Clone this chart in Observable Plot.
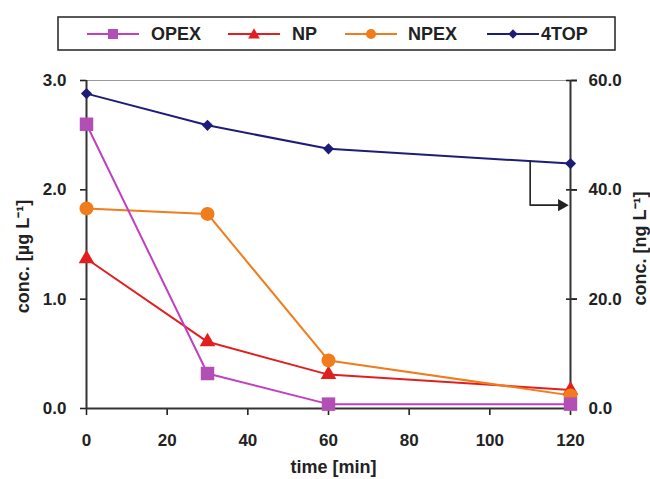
<!DOCTYPE html>
<html><head><meta charset="utf-8">
<script src="https://cdn.jsdelivr.net/npm/d3@7"></script>
<script src="https://cdn.jsdelivr.net/npm/@observablehq/plot@0.6"></script>
<style>
body{margin:0;background:#fff;font-family:"Liberation Sans",Arial,sans-serif;}
#wrap{position:relative;width:650px;height:479px;overflow:hidden;}
#legend{position:absolute;left:0;top:0;}
#chart{position:absolute;left:0;top:62px;}
</style></head><body>
<div id="wrap"><svg id="legend" width="650" height="62"></svg><div id="chart"></div></div>
<script>
// ---- data ----
const times = [0, 30, 60, 120];                 // time [min]
const opex  = [2.60, 0.32, 0.04, 0.04];         // µg/L (left axis)
const np    = [1.37, 0.61, 0.31, 0.17];         // µg/L
const npex  = [1.83, 1.78, 0.44, 0.12];         // µg/L
const top4  = [57.6, 51.8, 47.5, 44.8];         // ng/L (right axis)
const seriesNames = ["OPEX", "NP", "NPEX", "4TOP"];
const xTicks = [0, 20, 40, 60, 80, 100, 120];
const leftTicks = [0, 1, 2, 3];
const rightTicks = [0, 20, 40, 60];
const ratio = 20; // right axis (ng/L) = left axis units * 20
// annotation arrow (points to right axis)
const arrowX = 110, arrowYng = 37.2, arrowEndX = 117.8;

const colors = {OPEX: "#c040c0", NP: "#e21f1f", NPEX: "#f07c1c", "4TOP": "#1d1d78"};
const fills  = {OPEX: "#b24fb4", NP: "#e21f1f", NPEX: "#f07c1c", "4TOP": "#1d1d78"};
const symbols = {OPEX: "square", NP: "triangle", NPEX: "circle", "4TOP": "diamond2"};
const radii = {OPEX: 7.6, NP: 5.8, NPEX: 7, "4TOP": 5};

const valuesBy = {OPEX: opex, NP: np, NPEX: npex, "4TOP": top4.map(v => v / ratio)};
const rows = [];
for (const s of seriesNames) valuesBy[s].forEach((v, i) => rows.push({series: s, t: times[i], y: v}));

// arrow geometry: start on 4TOP line at arrowX
function interp(xs, ys, x) {
  for (let i = 0; i < xs.length - 1; i++) if (x >= xs[i] && x <= xs[i+1]) return ys[i] + (ys[i+1]-ys[i])*(x-xs[i])/(xs[i+1]-xs[i]);
  return ys[ys.length-1];
}
const yStart = interp(times, valuesBy["4TOP"], arrowX);
const arrowPath = [{x: arrowX, y: yStart}, {x: arrowX, y: arrowYng/ratio}, {x: arrowEndX, y: arrowYng/ratio}];

const drawOrder = ["4TOP", "NP", "NPEX", "OPEX"];
const dotOrder = ["NP", "NPEX", "OPEX", "4TOP"];

const plot = Plot.plot({
  width: 650, height: 417,
  marginLeft: 86, marginRight: 80, marginTop: 18, marginBottom: 71,
  style: {fontFamily: '"Liberation Sans", Arial, sans-serif', fontSize: "17px", fontWeight: "bold", color: "#222"},
  x: {domain: [0, 120], axis: null},
  y: {domain: [0, 3], axis: null},
  marks: [
    Plot.ruleY([3], {stroke: "#9a9a9a", strokeWidth: 1.2}),
    Plot.axisX({ticks: xTicks, tickSize: 7, tickPadding: 18, tickFormat: d => String(d), label: null, strokeWidth: 1.6}),
    Plot.axisY({anchor: "left", ticks: leftTicks, tickSize: 6, tickPadding: 14, tickFormat: d => d.toFixed(1), label: null, strokeWidth: 1.6}),
    Plot.axisY({anchor: "right", ticks: rightTicks.map(v => v/ratio), tickSize: 6, tickPadding: 12, tickFormat: d => (d*ratio).toFixed(1), label: null, strokeWidth: 1.6}),
    Plot.axisY({anchor: "right", ticks: rightTicks.map(v => v/ratio), tickSize: 11, dx: -5, tickPadding: 0, tickFormat: () => "", label: null, strokeWidth: 1.6}),
    Plot.ruleX([0], {stroke: "#333", strokeWidth: 2}),
    Plot.ruleX([120], {stroke: "#333", strokeWidth: 2}),
    Plot.ruleY([0], {stroke: "#333", strokeWidth: 2}),
    ...drawOrder.map(s => Plot.line(rows.filter(d => d.series === s), {x: "t", y: "y", stroke: colors[s], strokeWidth: 2})),
    Plot.line(arrowPath, {x: "x", y: "y", stroke: "#222", strokeWidth: 1.6}),
    Plot.dot([arrowPath[2]], {x: "x", y: "y", symbol: "triangle", r: 4.6, rotate: 90, fill: "#222", stroke: "none"}),
    ...dotOrder.map(s => Plot.dot(rows.filter(d => d.series === s), {x: "t", y: "y", symbol: symbols[s], r: radii[s], fill: fills[s], stroke: "none"})),
    Plot.text(["conc. [µg L⁻¹]"], {frameAnchor: "left", textAnchor: "middle", rotate: -90, dx: -63, dy: 12, fontSize: 18, fontWeight: "bold", fill: "#222"}),
    Plot.text(["conc. [ng L⁻¹]"], {frameAnchor: "right", textAnchor: "middle", rotate: -90, dx: 70, dy: 4, fontSize: 18, fontWeight: "bold", fill: "#222"}),
    Plot.text(["time [min]"], {frameAnchor: "bottom", textAnchor: "middle", dy: 64, dx: 5, fontSize: 18, fontWeight: "bold", fill: "#222"})
  ]
});
document.getElementById("chart").appendChild(plot);

// ---- legend (above the plot) ----
const lg = d3.select("#legend");
lg.append("rect").attr("x", 58).attr("y", 17).attr("width", 557).attr("height", 33)
  .attr("fill", "#fff").attr("stroke", "#222").attr("stroke-width", 1.5);
const lineStart = [87, 228, 345, 487];
const textStart = [151, 292, 408, 541];
const legendSym = {OPEX: d3.symbolSquare, NP: d3.symbolTriangle, NPEX: d3.symbolCircle, "4TOP": d3.symbolDiamond2};
const legendSize = {OPEX: 100, NP: 60, NPEX: 80, "4TOP": 55};
seriesNames.forEach((s, i) => {
  const x0 = lineStart[i], cy = 34;
  lg.append("line").attr("x1", x0).attr("x2", x0 + 52).attr("y1", cy).attr("y2", cy)
    .attr("stroke", colors[s]).attr("stroke-width", 2.2);
  lg.append("path").attr("d", d3.symbol(legendSym[s], legendSize[s])())
    .attr("transform", `translate(${x0 + 26},${cy + (s === "NP" ? 1 : 0)})`).attr("fill", fills[s]);
  lg.append("text").attr("x", textStart[i]).attr("y", cy).attr("dy", "0.36em")
    .attr("font-size", 18).attr("font-weight", "bold").attr("fill", "#222")
    .attr("font-family", '"Liberation Sans", Arial, sans-serif').text(s);
});
</script>
</body></html>
